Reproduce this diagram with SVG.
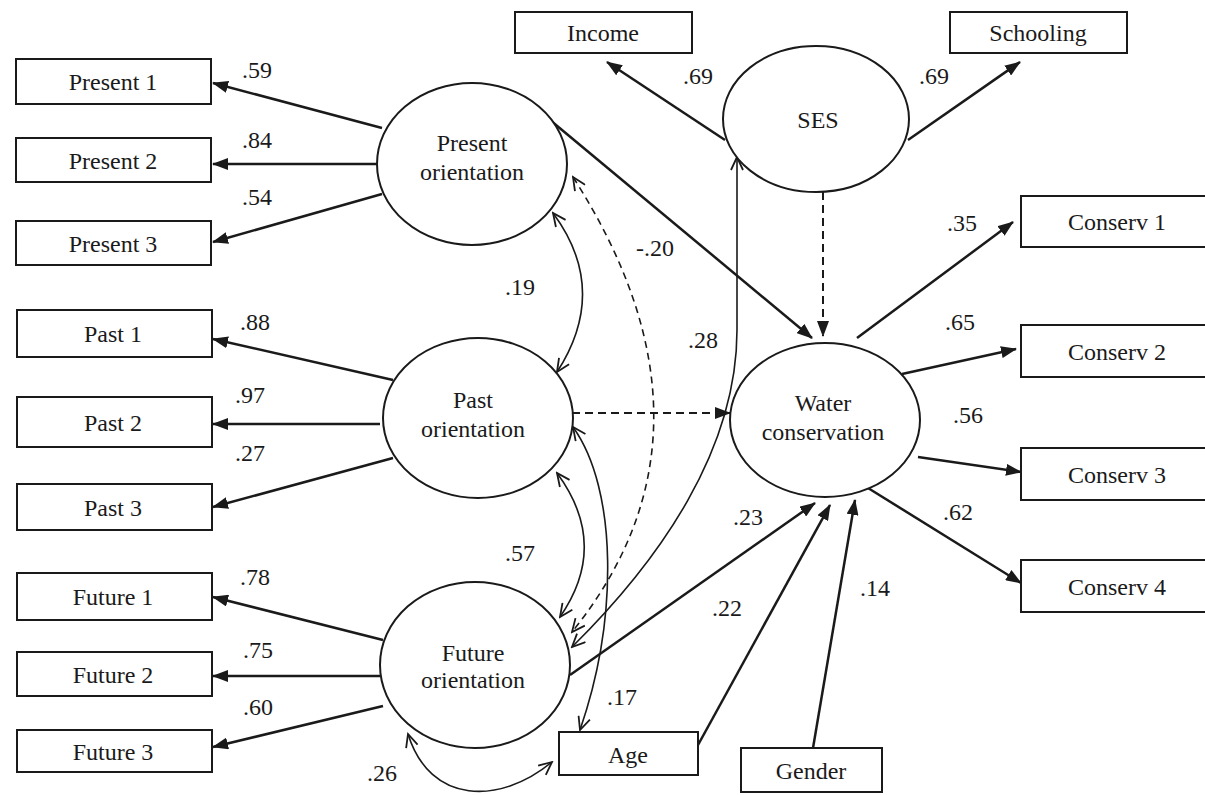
<svg xmlns="http://www.w3.org/2000/svg" width="1205" height="795" viewBox="0 0 1205 795">
<style>
text{font-family:"Liberation Serif","Times New Roman",serif;font-size:24px;fill:#1a1a1a;text-anchor:middle}
.box{fill:#fff;stroke:#1a1a1a;stroke-width:2}
.ell{fill:#fff;stroke:#1a1a1a;stroke-width:2}
.ln{fill:none;stroke:#1a1a1a;stroke-width:2.5;marker-end:url(#tri)}
.dash{fill:none;stroke:#1a1a1a;stroke-width:2;stroke-dasharray:8,5;marker-end:url(#tri)}
.cv{fill:none;stroke:#1a1a1a;stroke-width:1.6;marker-start:url(#open);marker-end:url(#open)}
.cvd{fill:none;stroke:#1a1a1a;stroke-width:1.6;stroke-dasharray:7,5;marker-start:url(#open);marker-end:url(#open)}
</style>
<defs>
<marker id="tri" markerUnits="userSpaceOnUse" markerWidth="16" markerHeight="12" viewBox="0 0 16 12" refX="15" refY="6" orient="auto">
<path d="M0,0 L16,6 L0,12 z" fill="#1a1a1a"/>
</marker>
<marker id="open" markerUnits="userSpaceOnUse" markerWidth="16" markerHeight="14" viewBox="0 0 16 14" refX="14" refY="7" orient="auto-start-reverse">
<path d="M1,1 L14,7 L1,13" fill="none" stroke="#1a1a1a" stroke-width="1.8"/>
</marker>
</defs>
<rect width="1205" height="795" fill="#fff"/>
<g id="connectors">
<path class="ln" d="M382,128 L213,83"/>
<path class="ln" d="M378,164 L213,164"/>
<path class="ln" d="M382,194 L213,242"/>
<path class="ln" d="M393,380 L213,339"/>
<path class="ln" d="M380,424 L213,424"/>
<path class="ln" d="M393,458 L213,507"/>
<path class="ln" d="M383,640 L213,597"/>
<path class="ln" d="M380,676 L213,676"/>
<path class="ln" d="M383,706 L213,747"/>
<path class="ln" d="M725,140 L607,62"/>
<path class="ln" d="M908,140 L1020,62"/>
<path class="ln" d="M550,120 L812,338"/>
<path class="dash" d="M823,192 L823,336"/>
<path class="dash" d="M572,413 L730,413"/>
<path class="ln" d="M857,338 L1013,222"/>
<path class="ln" d="M902,374 L1016,349"/>
<path class="ln" d="M918,457 L1021,472"/>
<path class="ln" d="M868,488 L1021,583"/>
<path class="ln" d="M570,675 L815,503"/>
<path class="ln" d="M698,745 L830,505"/>
<path class="ln" d="M813,748 L855,500"/>
<path class="cv" d="M553,213 Q610,290 557,372"/>
<path class="cv" d="M557,473 Q610,545 560,617"/>
<path class="cvd" d="M573,177 Q735,430 572,632"/>
<path class="cv" d="M573,427 C618,490 618,620 580,730"/>
<path class="cv" d="M737,157 L737,330 C737,450 660,560 572,647"/>
<path class="cv" d="M408,734 C430,805 500,805 552,762"/>
<text x="257" y="78">.59</text>
<text x="257" y="148">.84</text>
<text x="257" y="205">.54</text>
<text x="255" y="330">.88</text>
<text x="250" y="403">.97</text>
<text x="250" y="461">.27</text>
<text x="255" y="585">.78</text>
<text x="258" y="658">.75</text>
<text x="258" y="715">.60</text>
<text x="382" y="781">.26</text>
<text x="698" y="84">.69</text>
<text x="934" y="84">.69</text>
<text x="655" y="256">-.20</text>
<text x="520" y="295">.19</text>
<text x="703" y="348">.28</text>
<text x="520" y="561">.57</text>
<text x="622" y="705">.17</text>
<text x="748" y="525">.23</text>
<text x="727" y="616">.22</text>
<text x="875" y="596">.14</text>
<text x="962" y="231">.35</text>
<text x="960" y="330">.65</text>
<text x="968" y="423">.56</text>
<text x="958" y="520">.62</text>
</g>
<g id="present1"><rect class="box" x="16" y="59" width="195" height="45"/><text x="113" y="90">Present 1</text></g>
<g id="present2"><rect class="box" x="16" y="138" width="195" height="44"/><text x="113" y="169">Present 2</text></g>
<g id="present3"><rect class="box" x="16" y="221" width="195" height="44"/><text x="113" y="252">Present 3</text></g>
<g id="past1"><rect class="box" x="17" y="310" width="195" height="47"/><text x="113" y="342">Past 1</text></g>
<g id="past2"><rect class="box" x="17" y="397" width="195" height="50"/><text x="113" y="431">Past 2</text></g>
<g id="past3"><rect class="box" x="17" y="484" width="195" height="46"/><text x="113" y="516">Past 3</text></g>
<g id="future1"><rect class="box" x="17" y="573" width="195" height="47"/><text x="113" y="605">Future 1</text></g>
<g id="future2"><rect class="box" x="17" y="652" width="195" height="44"/><text x="113" y="683">Future 2</text></g>
<g id="future3"><rect class="box" x="17" y="730" width="195" height="42"/><text x="113" y="760">Future 3</text></g>
<g id="income"><rect class="box" x="515" y="12" width="177" height="41"/><text x="603" y="41">Income</text></g>
<g id="schooling"><rect class="box" x="950" y="12" width="177" height="41"/><text x="1038" y="41">Schooling</text></g>
<g id="conserv1"><rect class="box" x="1021" y="196" width="192" height="51"/><text x="1117" y="230">Conserv 1</text></g>
<g id="conserv2"><rect class="box" x="1021" y="325" width="192" height="52"/><text x="1117" y="360">Conserv 2</text></g>
<g id="conserv3"><rect class="box" x="1021" y="448" width="192" height="52"/><text x="1117" y="483">Conserv 3</text></g>
<g id="conserv4"><rect class="box" x="1021" y="560" width="192" height="52"/><text x="1117" y="595">Conserv 4</text></g>
<g id="age"><rect class="box" x="559" y="732" width="139" height="43"/><text x="628" y="763">Age</text></g>
<g id="gender"><rect class="box" x="741" y="748" width="141" height="44"/><text x="811" y="779">Gender</text></g>
<g id="present-orientation"><ellipse class="ell" cx="472" cy="164" rx="95" ry="81"/><text x="472" y="151">Present</text><text x="472" y="180">orientation</text></g>
<g id="past-orientation"><ellipse class="ell" cx="478" cy="418" rx="95" ry="80"/><text x="473" y="408">Past</text><text x="473" y="437">orientation</text></g>
<g id="future-orientation"><ellipse class="ell" cx="475" cy="665" rx="95" ry="83"/><text x="473" y="661">Future</text><text x="473" y="688">orientation</text></g>
<g id="ses"><ellipse class="ell" cx="816" cy="119" rx="93" ry="73"/><text x="818" y="128">SES</text></g>
<g id="water-conservation"><ellipse class="ell" cx="825" cy="420" rx="95" ry="77"/><text x="823" y="411">Water</text><text x="823" y="440">conservation</text></g>
</svg>
